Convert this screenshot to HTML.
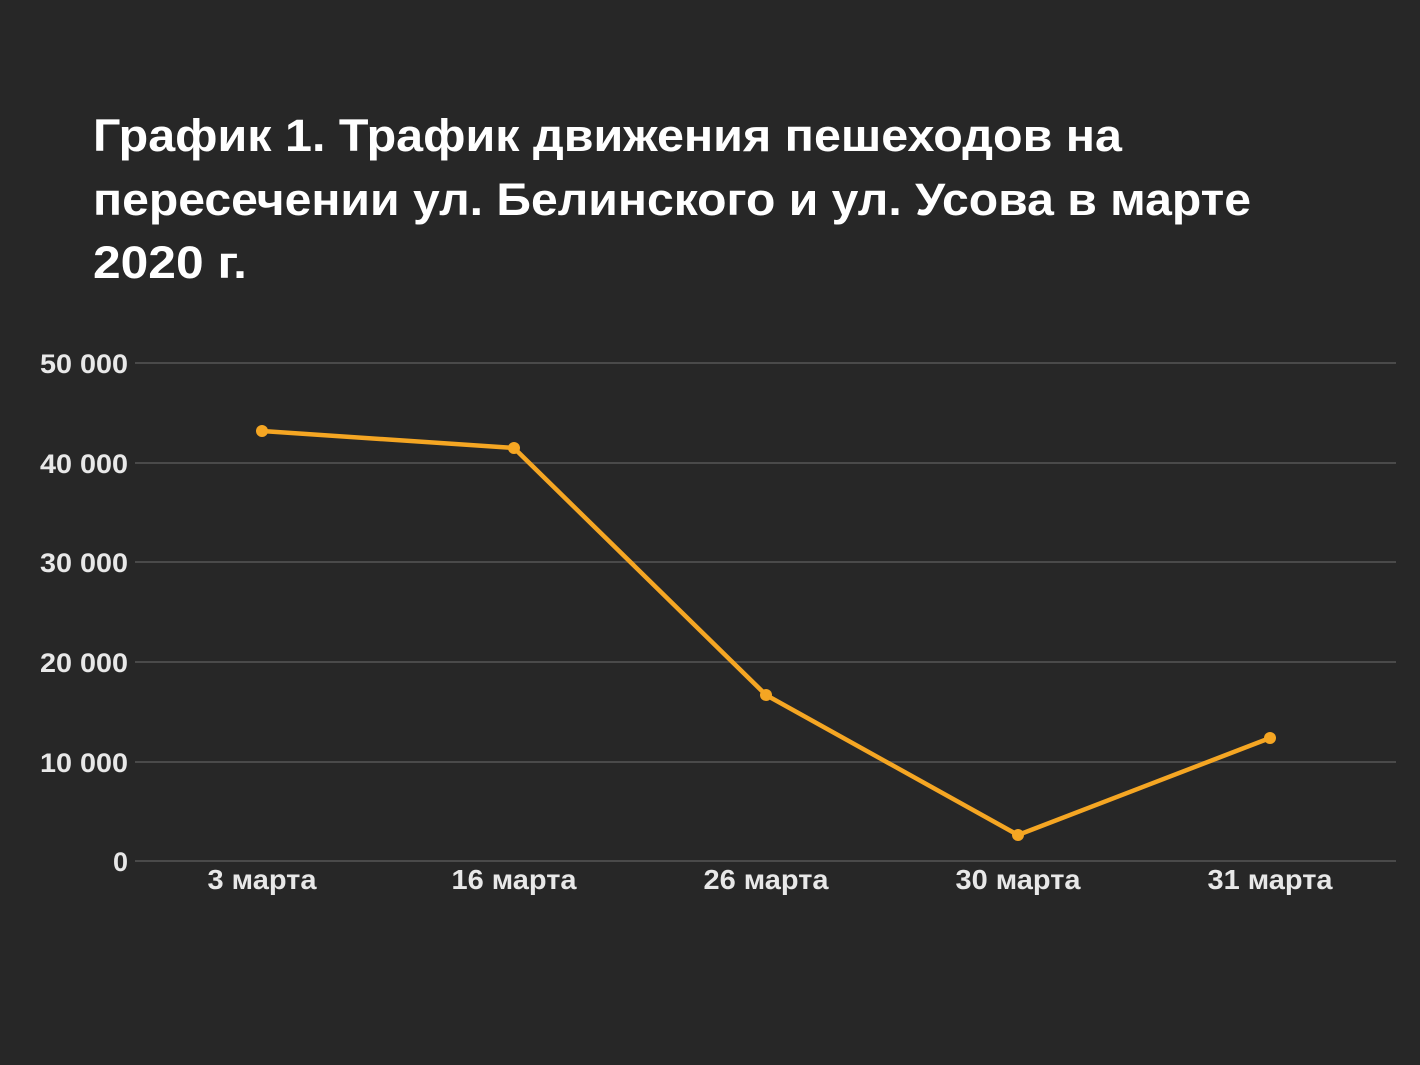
<!DOCTYPE html>
<html><head><meta charset="utf-8"><style>
html,body{margin:0;padding:0;background:#272727;}
svg{display:block;}
</style></head><body>
<svg width="1420" height="1065" xmlns="http://www.w3.org/2000/svg">
<rect width="1420" height="1065" fill="#272727"/>
<g font-family="Liberation Sans, DejaVu Sans, sans-serif" font-weight="bold" fill="#ffffff" font-size="45">
<text x="93" y="151" textLength="1029" lengthAdjust="spacingAndGlyphs">График 1. Трафик движения пешеходов на</text>
<text x="93" y="215" textLength="1158" lengthAdjust="spacingAndGlyphs">пересечении ул. Белинского и ул. Усова в марте</text>
<text x="93" y="278" textLength="154" lengthAdjust="spacingAndGlyphs">2020 г.</text>
</g>
<g stroke="#4a4a4a" stroke-width="2">
<line x1="135" y1="363" x2="1396" y2="363"/>
<line x1="135" y1="463" x2="1396" y2="463"/>
<line x1="135" y1="562" x2="1396" y2="562"/>
<line x1="135" y1="662" x2="1396" y2="662"/>
<line x1="135" y1="762" x2="1396" y2="762"/>
<line x1="135" y1="861" x2="1396" y2="861"/>
</g>
<g font-family="Liberation Sans, sans-serif" font-weight="bold" fill="#e8e8e8" font-size="27" text-anchor="end">
<text x="128" y="373" textLength="88" lengthAdjust="spacingAndGlyphs">50 000</text>
<text x="128" y="473" textLength="88" lengthAdjust="spacingAndGlyphs">40 000</text>
<text x="128" y="572" textLength="88" lengthAdjust="spacingAndGlyphs">30 000</text>
<text x="128" y="672" textLength="88" lengthAdjust="spacingAndGlyphs">20 000</text>
<text x="128" y="772" textLength="88" lengthAdjust="spacingAndGlyphs">10 000</text>
<text x="128" y="871">0</text>
</g>
<g font-family="Liberation Sans, sans-serif" font-weight="bold" fill="#e8e8e8" font-size="28" text-anchor="middle">
<text x="262" y="889" textLength="109" lengthAdjust="spacingAndGlyphs">3 марта</text>
<text x="514" y="889" textLength="125" lengthAdjust="spacingAndGlyphs">16 марта</text>
<text x="766" y="889" textLength="125" lengthAdjust="spacingAndGlyphs">26 марта</text>
<text x="1018" y="889" textLength="125" lengthAdjust="spacingAndGlyphs">30 марта</text>
<text x="1270" y="889" textLength="125" lengthAdjust="spacingAndGlyphs">31 марта</text>
</g>
<polyline points="262,431 514,448 766,695 1018,835 1270,738" fill="none" stroke="#f5a623" stroke-width="4.5" stroke-linejoin="round"/>
<g fill="#f5a623">
<circle cx="262" cy="431" r="6"/>
<circle cx="514" cy="448" r="6"/>
<circle cx="766" cy="695" r="6"/>
<circle cx="1018" cy="835" r="6"/>
<circle cx="1270" cy="738" r="6"/>
</g>
</svg>
</body></html>
